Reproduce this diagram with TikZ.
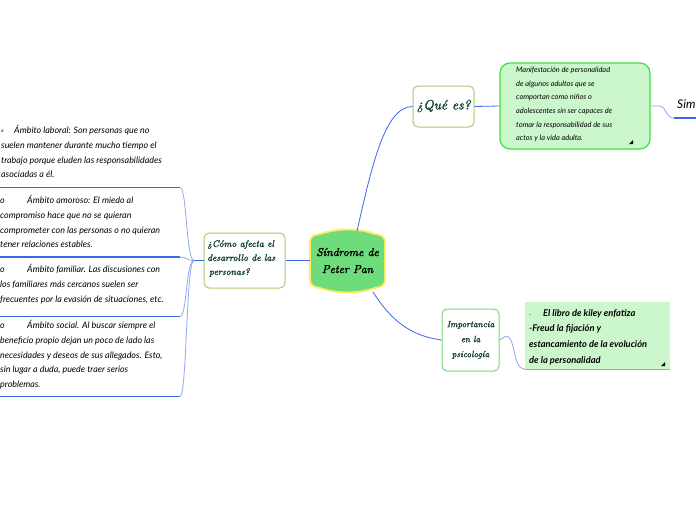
\documentclass[tikz,border=0pt]{standalone}
\usepackage{fontspec}
\newfontfamily\hand{Lato}
\newfontfamily\scriptf{lmroman10-italic.otf}[FakeBold=2]
\definecolor{headgreen}{HTML}{16472F}
\definecolor{olive}{HTML}{A8CC72}
\definecolor{midgreen}{HTML}{7CD67C}
\definecolor{notefill}{HTML}{CCF7CC}
\definecolor{notedraw}{HTML}{3BE03B}
\definecolor{ctrfill}{HTML}{6EDC7A}
\definecolor{ctrdraw}{HTML}{FFEB60}
\definecolor{linkblue}{HTML}{3A68E8}
\definecolor{lightblue}{HTML}{8DA7F2}
\begin{document}
\begin{tikzpicture}[x=1pt,y=-1pt,
  hbox/.style={draw=olive, line width=1pt, rounded corners=5pt, fill=white, inner sep=0pt},
  head/.style={font=\scriptf\fontsize{9.5}{14}\selectfont, text=headgreen},
  bodytext/.style={font=\hand\itshape\fontsize{8.9}{14.8}\selectfont, align=left, inner sep=0pt, anchor=north west},
  notetext/.style={font=\hand\itshape\fontsize{7.4}{13.6}\selectfont, align=left, inner sep=0pt, anchor=north west},
  libtext/.style={font=\hand\bfseries\itshape\fontsize{9.3}{15.8}\selectfont, align=left, inner sep=0pt, anchor=north west},
  uline/.style={draw=linkblue, line width=1.6pt},
  branch/.style={draw=lightblue, line width=0.8pt},
  link/.style={draw=linkblue, line width=0.8pt},
  tri/.style={fill=black}
]
\useasboundingbox (0,0) rectangle (696,520);

% central barrel
\path[fill=ctrfill, draw=ctrdraw, line width=1.8pt]
  (310,243) .. controls (310,236) and (314,235) .. (320,234)
  .. controls (338,228) and (357,228) .. (375,234)
  .. controls (381,235) and (385,236) .. (385,243)
  -- (385,279)
  .. controls (385,286) and (381,287) .. (375,288)
  .. controls (357,294) and (338,294) .. (320,288)
  .. controls (314,287) and (310,286) .. (310,279) -- cycle;
\node[inner sep=0pt, minimum width=75pt, minimum height=60pt, align=center,
  font=\scriptf\fontsize{11.5}{17}\selectfont, text=black] (ctr) at (347.5,260.5)
  {S\'indrome de\\Peter Pan};

% como afecta
\node[hbox, minimum width=81pt, minimum height=55pt] (como) at (244.5,260.5) {};
\node[head, align=left, anchor=north west, inner sep=0pt] (comot) at (207,240)
  {\textquestiondown C\'omo afecta el\\desarrollo de las\\\hspace{2pt}personas?};

% que es
\node[hbox, minimum width=61pt, minimum height=41pt] (que) at (443.5,106.5) {};
\node[head, font=\scriptf\fontsize{13.5}{14}\selectfont] (quet) at (443.5,106) {\textquestiondown Qu\'e es?};

% importancia
\node[hbox, draw=midgreen, minimum width=57pt, minimum height=62pt] (imp) at (470.5,340) {};
\node[head, align=center, font=\scriptf\fontsize{9}{15}\selectfont] (impt) at (470.5,340)
  {Importancia\\en la\\psicolog\'ia};

% manifestacion note
\node[draw=notedraw, fill=notefill, line width=1.2pt, rounded corners=10pt,
  minimum width=150pt, minimum height=86pt, inner sep=0pt] (man) at (575,106) {};
\node[notetext] (mant) at (516,67)
  {Manifestaci\'on de personalidad\\de algunos adultos que se\\comportan como ni\~nos o\\adolescentes sin ser capaces de\\tomar la responsabilidad de sus\\actos y la vida adulta.};
\fill[tri] (629,144) -- (633,144) -- (633,140) -- cycle;

% libro note
\node[fill=notefill, minimum width=145pt, minimum height=67pt, inner sep=0pt] (lib) at (597.5,335.5) {};
\node[libtext] (libt) at (529,309)
  {\makebox[14pt][l]{\fontsize{5}{5}\selectfont -}El libro de kiley enfatiza\\-Freud la fijaci\'on y\\estancamiento de la evoluci\'on\\de la personalidad};
\fill[tri] (661,366) -- (665,366) -- (665,362) -- cycle;

% Sim
\node[font=\hand\itshape\fontsize{12}{13}\selectfont, anchor=west, inner sep=0pt] (sim) at (677,104) {Sim};

% left text blocks
\node[bodytext] (b1) at (1,125)
  {\makebox[13pt][l]{\raisebox{1pt}{\fontsize{5}{5}\selectfont o}}\'Ambito laboral: Son personas que no\\suelen mantener durante mucho tiempo el\\trabajo porque eluden las responsabilidades\\asociadas a \'el.};
\node[bodytext] (b2) at (0,195)
  {\makebox[27pt][l]{o}\'Ambito amoroso: El miedo al\\compromiso hace que no se quieran\\comprometer con las personas o no quieran\\tener relaciones estables.};
\node[bodytext] (b3) at (0,264)
  {\makebox[27pt][l]{o}\'Ambito familiar. Las discusiones con\\los familiares m\'as cercanos suelen ser\\frecuentes por la evasi\'on de situaciones, etc.};
\node[bodytext] (b4) at (0,320)
  {\makebox[27pt][l]{o}\'Ambito social. Al buscar siempre el\\beneficio propio dejan un poco de lado las\\necesidades y deseos de sus allegados. Esto,\\sin lugar a duda, puede traer serios\\problemas.};

% underline anchors
\coordinate (u1) at (180,187.5);
\coordinate (u2) at (180,257);
\coordinate (u3) at (180,316.5);
\coordinate (u4) at (180,396.5);
\coordinate (j) at (194,260.5);
\foreach \u in {u1,u2,u3,u4} {
  \draw[uline] (0,0 |- \u) -- (\u);
  \draw[branch] (j) .. controls (186,260.5) and (187,0 |- \u) .. (\u);
}
\draw[link] (como.west) -- (j);

% main connectors
\draw[link] (ctr.west) -- (como.east);
\draw[link] (357,231) .. controls (372,165) and (385,106.5) .. (que.west);
\draw[link] (373,292) .. controls (392,322) and (412,336) .. (imp.west);
\draw[link] (que.east) -- (man.west);
\draw[branch] (imp.east) -- (506,336) .. controls (516,336) and (512,369) .. (lib.south west);
\draw[branch, line width=0.5pt] (lib.south west) -- (lib.south east);
\draw[branch] (man.east) -- (659,106) .. controls (667,106) and (665,118) .. (674,118);
\draw[uline] (674,118) -- (696,118);
\end{tikzpicture}
\end{document}
